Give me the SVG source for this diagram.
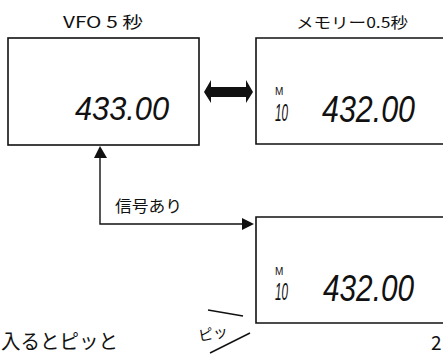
<svg xmlns="http://www.w3.org/2000/svg" width="443" height="354" viewBox="0 0 443 354">
<style>
.box{fill:none;stroke:#111;stroke-width:1.6}
.lbl{font-family:"Noto Sans CJK JP","Noto Sans",sans-serif;fill:#111}
.lcd{font-family:"Liberation Sans",Arial,sans-serif;font-style:italic;fill:#111}
.m{font-family:"Liberation Sans",Arial,sans-serif;font-size:10px;fill:#111}
.ln{stroke:#111;stroke-width:1.4;fill:none}
</style>
<rect x="0" y="0" width="443" height="354" fill="#fff"/>
<g id="vfo">
  <text class="lbl" x="63" y="28" font-size="16" textLength="80" lengthAdjust="spacingAndGlyphs">VFO 5 秒</text>
  <rect class="box" x="8" y="38" width="191" height="107"/>
  <text class="lcd" x="75" y="120" font-size="33" textLength="94" lengthAdjust="spacingAndGlyphs">433.00</text>
</g>
<g id="memory">
  <text class="lbl" x="296" y="28" font-size="15" textLength="112" lengthAdjust="spacingAndGlyphs">メモリー0.5秒</text>
  <path class="box" d="M445,38 H256 V144 H445"/>
  <text class="m" x="275" y="95">M</text>
  <text class="lcd" x="275" y="121" font-size="24" textLength="13" lengthAdjust="spacingAndGlyphs">10</text>
  <text class="lcd" x="322" y="122" font-size="36" textLength="93" lengthAdjust="spacingAndGlyphs">432.00</text>
</g>
<g id="memory2">
  <path class="box" d="M445,217 H256 V323 H445"/>
  <text class="m" x="275" y="275">M</text>
  <text class="lcd" x="275" y="300" font-size="24" textLength="13" lengthAdjust="spacingAndGlyphs">10</text>
  <text class="lcd" x="323" y="301" font-size="36" textLength="91" lengthAdjust="spacingAndGlyphs">432.00</text>
</g>
<g id="connectors">
  <polygon fill="#111" points="204,92 211,80 211,87 246,87 246,80 253,92 246,103 246,97 211,97 211,103"/>
  <polygon fill="#111" points="100,146 94,158 107,158"/>
  <path class="ln" d="M100,158 V224 H245"/>
  <polygon fill="#111" points="254,224 242,218 242,230"/>
  <text class="lbl" x="115" y="212" font-size="16" textLength="67" lengthAdjust="spacingAndGlyphs">信号あり</text>
</g>
<g id="notes">
  <text class="lbl" x="1" y="349" font-size="20" textLength="117" lengthAdjust="spacingAndGlyphs">入るとピッと</text>
  <line class="ln" x1="208" y1="310" x2="243" y2="316" stroke-width="1.2"/>
  <line class="ln" x1="210" y1="353" x2="250" y2="333" stroke-width="1.2"/>
  <text class="lbl" x="198" y="339" font-size="15" transform="rotate(-10 213 333)">ピッ</text>
  <text class="lbl" x="431" y="350" font-size="19">2</text>
</g>
</svg>
